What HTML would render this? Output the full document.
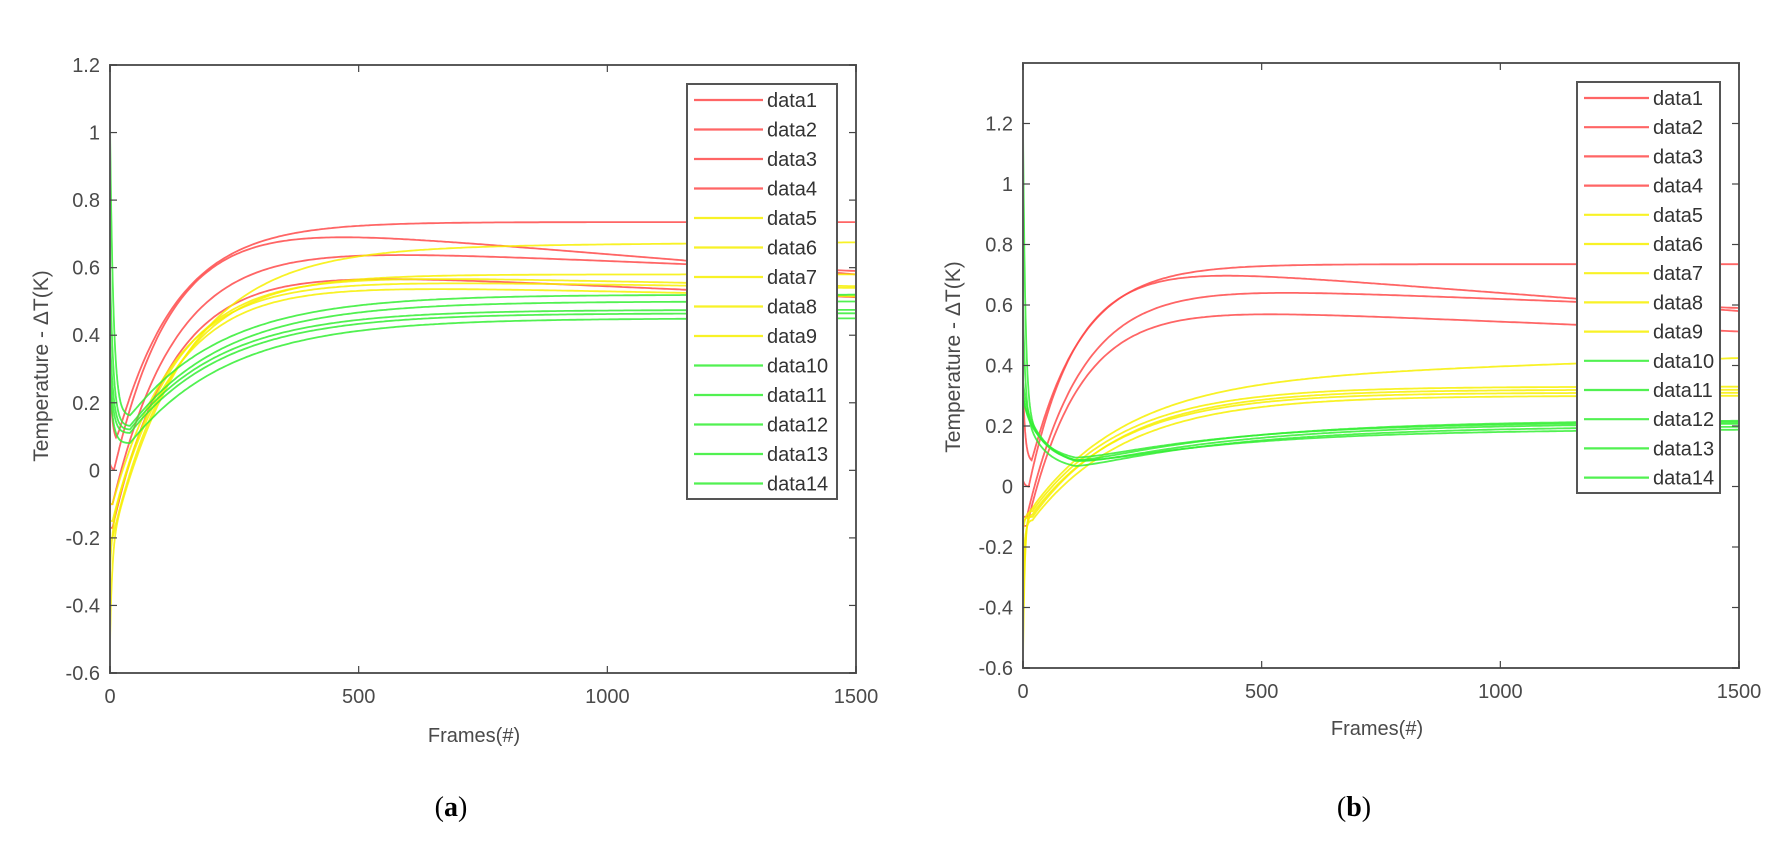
<!DOCTYPE html>
<html><head><meta charset="utf-8"><style>
html,body{margin:0;padding:0;background:#fff;}
svg{display:block;}
.t{font-family:"Liberation Sans",sans-serif;fill:#4a4a4a;font-size:20px;}
.y{font-family:"Liberation Sans",sans-serif;fill:#4a4a4a;font-size:21px;}
.l{font-family:"Liberation Sans",sans-serif;fill:#333;font-size:20px;}
.c{font-family:"Liberation Serif",serif;fill:#000;font-size:28px;}
</style></head><body>
<svg id="s" width="1791" height="847" viewBox="0 0 1791 847" xmlns="http://www.w3.org/2000/svg">
<rect width="1791" height="847" fill="#fff"/>
<g id="g"></g>
<text class="c" x="451" y="816" text-anchor="middle">(<tspan font-weight="bold">a</tspan>)</text>
<text class="c" x="1354" y="816" text-anchor="middle">(<tspan font-weight="bold">b</tspan>)</text>
</svg>
<script>
const NS="http://www.w3.org/2000/svg";const G=document.getElementById('g');
function el(t,a,txt){const e=document.createElementNS(NS,t);for(const k in a)e.setAttribute(k,a[k]);if(txt!==undefined)e.textContent=txt;G.appendChild(e);return e;}
const R="#ff4a4a",Y="#f7f000",Gr="#33ee33";
function v(f,p){const [v0,vmin,k,fm,A,tau,sl,b2,k2]=p;const bb=b2||0,kk=k2||1;
 return vmin+(v0-vmin-bb)*Math.exp(-f/k)+bb*Math.exp(-f/kk)+(A-vmin)*(1-Math.exp(-Math.max(0,f-fm)/tau))+sl*f/1000;}
function plot(P){
 const X=f=>P.x0+f*(P.x1-P.x0)/1500, Yv=y=>P.yb-(y-P.ymin)*(P.yb-P.yt)/(P.ymax-P.ymin);
 for(const s of P.series){let d="";for(let f=0;f<=1500;f+=(f<60?0.5:5)){d+=(f?"L":"M")+X(f).toFixed(1)+","+Yv(v(f,s[1])).toFixed(1);}
  el('path',{d,fill:'none',stroke:s[0],'stroke-width':1.8,'stroke-opacity':0.85});}
 el('rect',{x:P.x0,y:P.yt,width:P.x1-P.x0,height:P.yb-P.yt,fill:'none',stroke:'#5a5a5a','stroke-width':2});
 for(const f of [0,500,1000,1500]){const x=X(f);el('line',{x1:x,y1:P.yb,x2:x,y2:P.yb-7,stroke:'#444','stroke-width':1.2});el('line',{x1:x,y1:P.yt,x2:x,y2:P.yt+7,stroke:'#444','stroke-width':1.2});
  el('text',{class:'t',x:x,y:P.yb+30,'text-anchor':'middle'},String(f));}
 for(let y=-0.6;y<=P.ymaxTick+1e-6;y+=0.2){const yy=Yv(y);const lab=(Math.abs(y)<1e-9?"0":(+y.toFixed(1)).toString());
  el('line',{x1:P.x0,y1:yy,x2:P.x0+7,y2:yy,stroke:'#444','stroke-width':1.2});el('line',{x1:P.x1,y1:yy,x2:P.x1-7,y2:yy,stroke:'#444','stroke-width':1.2});
  el('text',{class:'t',x:P.x0-10,y:yy+7,'text-anchor':'end'},lab);}
 el('text',{class:'t',x:P.xlx,y:P.xly,'text-anchor':'middle'},"Frames(#)");
 el('text',{class:'y',x:0,y:0,'text-anchor':'middle',transform:`translate(${P.ylx},${P.yly}) rotate(-90)`},"Temperature - \u0394T(K)");
 const L=P.leg;el('rect',{x:L.x,y:L.y,width:L.w,height:L.h,fill:'#fff',stroke:'#555','stroke-width':2});
 P.series.forEach((s,i)=>{const yy=L.r0+i*L.dr;el('line',{x1:L.x+7,y1:yy,x2:L.x+L.ll,y2:yy,stroke:s[0],'stroke-width':2.2,'stroke-opacity':0.85});
  el('text',{class:'l',x:L.x+L.ll+4,y:yy+7},"data"+(i+1));});
}
plot({x0:110,x1:856,yt:65,yb:673,ymin:-0.6,ymax:1.2,ymaxTick:1.2,xlx:474,xly:742,ylx:48,yly:366,
 leg:{x:687,y:84,w:150,h:415,r0:100,dr:29.5,ll:76},
 series:[
 [R,[0.27,0.08,5,12,0.735,120,0]],
 [R,[0.02,0.0,4,8,0.76,115,-0.12]],
 [R,[-0.1,-0.1,5,5,0.68,125,-0.06]],
 [R,[-0.17,-0.17,5,5,0.61,120,-0.065]],
 [Y,[-0.52,-0.2,4,5,0.66,150,0.01]],
 [Y,[-0.2,-0.2,5,5,0.58,125,0]],
 [Y,[-0.15,-0.15,5,5,0.59,125,-0.03]],
 [Y,[-0.1,-0.1,5,5,0.57,125,-0.02]],
 [Y,[-0.3,-0.15,4,5,0.56,125,-0.03]],
 [Gr,[1.03,0.16,7,40,0.52,190,0]],
 [Gr,[0.6,0.13,7,40,0.50,190,0]],
 [Gr,[0.4,0.12,7,40,0.475,185,0]],
 [Gr,[0.3,0.11,7,40,0.465,190,0]],
 [Gr,[0.25,0.08,7,40,0.45,200,0]]
 ]});
plot({x0:1023,x1:1739,yt:63,yb:668,ymin:-0.6,ymax:1.4,ymaxTick:1.2,xlx:1377,xly:735,ylx:960,yly:357,
 leg:{x:1577,y:82,w:143,h:411,r0:98,dr:29.2,ll:72},
 series:[
 [R,[0.33,0.08,5,18,0.735,105,0]],
 [R,[0.02,0.0,4,12,0.76,100,-0.12]],
 [R,[-0.1,-0.1,5,8,0.68,115,-0.06]],
 [R,[-0.13,-0.13,5,8,0.61,110,-0.065]],
 [Y,[-0.58,-0.07,4,20,0.35,200,0.05]],
 [Y,[-0.15,-0.08,5,20,0.33,190,0]],
 [Y,[-0.12,-0.1,5,20,0.32,190,0]],
 [Y,[-0.3,-0.11,4,20,0.30,200,0]],
 [Y,[-0.45,-0.09,4,20,0.31,190,0]],
 [Gr,[1.2,0.07,5,110,0.22,350,0,0.2,45]],
 [Gr,[0.35,0.06,6,110,0.21,350,0,0.22,50]],
 [Gr,[0.3,0.08,6,110,0.215,350,0,0.18,45]],
 [Gr,[0.6,0.055,5,110,0.20,350,0,0.2,40]],
 [Gr,[0.3,0.065,6,110,0.19,350,0,0.2,50]]
 ]});
</script>
</body></html>
